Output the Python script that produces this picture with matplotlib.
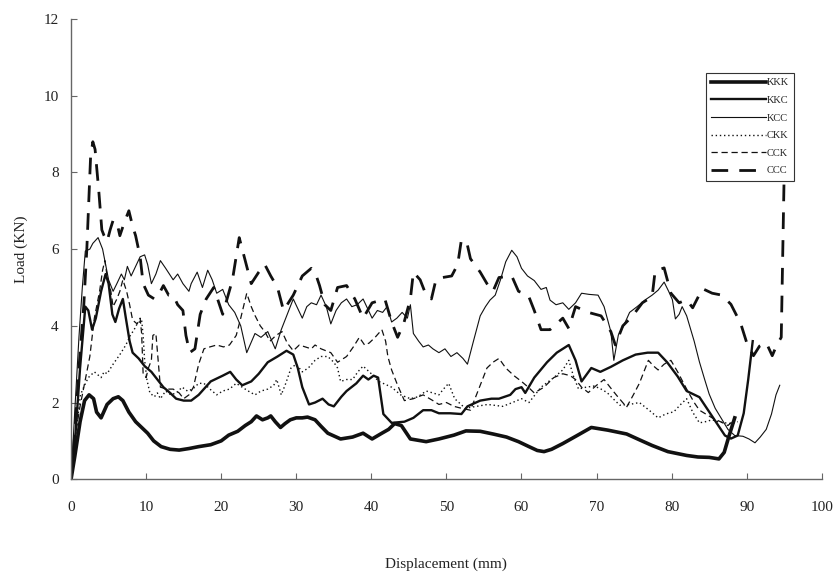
import matplotlib
matplotlib.use("Agg")
import matplotlib.pyplot as plt

plt.rcParams["font.family"] = ["Liberation Serif", "DejaVu Serif"]

# Load-displacement records (displacement in mm, load in kN)
KKK_PTS = [(0, 0), (0.5, 0.6), (1.2, 1.5), (1.8, 2.05), (2.4, 2.2), (3.0, 2.1), (3.4, 1.75), (4.0, 1.6),
           (4.8, 1.95), (5.6, 2.1), (6.3, 2.15), (6.9, 2.05), (7.7, 1.75), (8.6, 1.5), (9.4, 1.35),
           (10.2, 1.2), (11.0, 1.0), (12.0, 0.85), (13.2, 0.78), (14.4, 0.76), (15.7, 0.8), (17, 0.85),
           (18.6, 0.9), (20, 1.0), (21, 1.15), (22.2, 1.25), (23.2, 1.4), (24.0, 1.5), (24.7, 1.65),
           (25.5, 1.55), (26.2, 1.6), (26.6, 1.65), (27.2, 1.5), (27.9, 1.35), (28.5, 1.45), (29.2, 1.55),
           (30, 1.6), (30.8, 1.6), (31.5, 1.62), (32.5, 1.55), (33.3, 1.38), (34.2, 1.2), (35.9, 1.05),
           (37.5, 1.1), (38.9, 1.2), (40.1, 1.05), (41.4, 1.2), (42.3, 1.3), (43.1, 1.45), (44, 1.4),
           (45.2, 1.05), (47.3, 0.98), (49, 1.05), (51, 1.15), (52.6, 1.26), (54.5, 1.25), (56.2, 1.18),
           (58, 1.1), (59.6, 0.98), (61, 0.85), (62.1, 0.75), (63, 0.72), (64, 0.78), (65.5, 0.93),
           (67.5, 1.15), (69.3, 1.35), (71.5, 1.28), (74, 1.18), (75.8, 1.02), (77.4, 0.88), (79.5, 0.72),
           (82, 0.62), (83.5, 0.58), (85, 0.57), (86.3, 0.53), (87, 0.7), (87.6, 1.1), (88.4, 1.6)]

KKC_PTS = [(0, 0), (0.6, 1.2), (1.2, 2.9), (1.9, 4.5), (2.3, 4.4), (2.8, 3.9), (3.3, 4.2), (4.0, 4.9),
           (4.6, 5.35), (5.0, 5.1), (5.5, 4.3), (5.9, 4.1), (6.4, 4.45), (6.9, 4.7), (7.3, 4.2), (7.8, 3.6),
           (8.2, 3.3), (9.0, 3.15), (9.8, 2.95), (10.7, 2.8), (11.5, 2.6), (12.3, 2.4), (13.2, 2.25),
           (14.0, 2.1), (15.0, 2.05), (16.0, 2.05), (17.0, 2.2), (18.6, 2.55), (20.2, 2.7), (21.2, 2.8),
           (22.0, 2.6), (22.8, 2.45), (24.0, 2.55), (25.0, 2.75), (26.2, 3.05), (27.5, 3.2), (28.7, 3.35),
           (29.6, 3.25), (30.2, 2.9), (30.8, 2.4), (31.7, 1.95), (32.5, 2.0), (33.5, 2.1), (34.3, 1.95),
           (35.0, 1.9), (36.0, 2.15), (36.7, 2.3), (38.0, 2.5), (38.9, 2.7), (39.6, 2.6), (40.3, 2.7),
           (40.9, 2.65), (41.6, 1.7), (42.7, 1.47), (44.4, 1.5), (45.6, 1.6), (46.9, 1.8), (48.0, 1.8),
           (49, 1.72), (50.5, 1.72), (52, 1.7), (52.8, 1.9), (54.5, 2.05), (56, 2.1), (57, 2.1), (58.5, 2.2),
           (59.2, 2.35), (60, 2.4), (60.5, 2.25), (61.7, 2.65), (63.4, 3.05), (64.7, 3.3), (65.5, 3.4),
           (66.3, 3.5), (67.2, 3.1), (68, 2.55), (69.3, 2.9), (70.5, 2.8), (71.9, 2.93), (73.5, 3.1),
           (75.2, 3.25), (76.8, 3.3), (78.2, 3.3), (79.4, 3.05), (80.8, 2.68), (82, 2.3), (83.7, 2.14),
           (85.4, 1.64), (87.1, 1.14), (87.9, 1.06), (88.8, 1.14), (89.6, 1.72), (90.2, 2.6), (90.8, 3.6)]

KCC_PTS = [(0, 0), (0.5, 1.8), (1.05, 3.7), (1.5, 5.0), (1.9, 5.95), (2.5, 6.0), (2.9, 6.15), (3.6, 6.3),
           (4.2, 6.0), (4.6, 5.6), (5.0, 5.2), (5.6, 4.9), (6.1, 5.1), (6.7, 5.35), (7.1, 5.2), (7.5, 5.55),
           (8.0, 5.3), (8.6, 5.55), (9.2, 5.8), (9.8, 5.85), (10.2, 5.6), (10.7, 5.1), (11.3, 5.35),
           (11.9, 5.7), (12.6, 5.5), (13.6, 5.2), (14.2, 5.35), (14.9, 5.1), (15.7, 4.9), (16.0, 5.1),
           (16.8, 5.4), (17.5, 5.0), (18.2, 5.45), (18.8, 5.2), (19.4, 4.85), (20.2, 4.95), (21.0, 4.55),
           (21.8, 4.35), (22.6, 4.0), (23.4, 3.3), (24.5, 3.8), (25.3, 3.7), (26.2, 3.85), (27.2, 3.4),
           (28.0, 3.9), (28.8, 4.3), (29.6, 4.7), (30.2, 4.45), (30.8, 4.2), (31.4, 4.5), (32.0, 4.6),
           (32.7, 4.55), (33.3, 4.8), (34.0, 4.5), (34.6, 4.05), (35.3, 4.4), (36.0, 4.6), (36.7, 4.7),
           (37.4, 4.5), (38.1, 4.55), (38.9, 4.7), (39.5, 4.45), (40.1, 4.2), (40.8, 4.4), (41.5, 4.35),
           (42.1, 4.5), (42.7, 4.1), (43.4, 4.2), (44.1, 4.35), (44.8, 4.2), (45.2, 4.55), (45.6, 3.8),
           (46.3, 3.6), (46.9, 3.45), (47.6, 3.5), (48.2, 3.4), (49.0, 3.3), (49.8, 3.4), (50.6, 3.2),
           (51.4, 3.3), (52.2, 3.15), (52.8, 3.0), (53.6, 3.6), (54.5, 4.26), (55.2, 4.5), (55.8, 4.67),
           (56.5, 4.8), (57.2, 5.2), (57.9, 5.67), (58.7, 5.97), (59.4, 5.8), (60.0, 5.5), (60.8, 5.3),
           (61.7, 5.18), (62.6, 4.95), (63.3, 5.0), (63.8, 4.67), (64.6, 4.55), (65.5, 4.6), (66.3, 4.43),
           (67.2, 4.6), (68.0, 4.85), (69.0, 4.82), (70.2, 4.8), (71.0, 4.5), (71.9, 3.85), (72.3, 3.1),
           (72.9, 3.76), (73.6, 4.0), (74.4, 4.35), (75.4, 4.5), (76.5, 4.68), (77.4, 4.8), (78.2, 4.93),
           (79.0, 5.14), (79.6, 4.9), (80.1, 4.68), (80.5, 4.18), (81.0, 4.3), (81.4, 4.5), (82.0, 4.26),
           (83.0, 3.6), (83.7, 3.06), (84.4, 2.6), (85.0, 2.22), (85.8, 1.85), (86.7, 1.56), (87.5, 1.3),
           (88.4, 1.14), (89.5, 1.12), (90.3, 1.05), (91.1, 0.95), (91.8, 1.1), (92.6, 1.3), (93.3, 1.7),
           (93.9, 2.2), (94.4, 2.45)]

CKK_PTS = [(0, 0), (0.6, 1.1), (1.25, 2.2), (1.8, 2.45), (2.3, 2.65), (3.1, 2.8), (4.0, 2.65), (4.4, 2.8),
           (4.8, 2.75), (5.6, 3.0), (6.5, 3.25), (7.3, 3.5), (7.9, 3.75), (8.4, 3.9), (8.8, 4.05), (9.4, 4.15),
           (9.6, 3.75), (9.8, 3.1), (10.1, 2.6), (10.5, 2.25), (11.1, 2.15), (11.5, 2.25), (11.9, 2.1),
           (12.6, 2.3), (13.3, 2.2), (14.0, 2.25), (14.8, 2.4), (15.5, 2.3), (16.2, 2.35), (17.0, 2.5),
           (17.7, 2.5), (18.5, 2.35), (19.4, 2.2), (20.2, 2.3), (21.1, 2.35), (22.0, 2.5), (22.8, 2.4),
           (23.6, 2.3), (24.5, 2.2), (25.3, 2.3), (26.2, 2.35), (27.0, 2.45), (27.4, 2.6), (28.0, 2.2),
           (28.6, 2.5), (29.3, 2.9), (30.0, 3.0), (30.8, 2.8), (31.6, 2.9), (32.5, 3.1), (33.3, 3.2),
           (34.2, 3.2), (35.0, 3.05), (35.5, 2.9), (35.9, 2.55), (36.7, 2.6), (37.5, 2.6), (38.2, 2.8),
           (38.9, 2.95), (40.0, 2.75), (41.0, 2.55), (42.7, 2.4), (43.9, 2.2), (45.2, 2.1), (46.2, 2.15),
           (47.3, 2.3), (48.2, 2.25), (49.0, 2.2), (49.6, 2.35), (50.3, 2.5), (51.1, 2.1), (52.5, 1.85),
           (54.0, 1.9), (55.5, 1.95), (57.5, 1.9), (58.8, 2.0), (60.0, 2.1), (61.0, 2.0), (61.8, 2.2),
           (62.6, 2.4), (64.3, 2.65), (65.5, 2.85), (66.3, 3.1), (66.9, 2.7), (67.6, 2.35), (68.6, 2.4),
           (69.7, 2.43), (70.6, 2.35), (71.4, 2.26), (72.2, 2.1), (73.1, 1.93), (74.4, 1.95), (75.7, 2.0),
           (77.0, 1.8), (78.2, 1.6), (79.2, 1.7), (80.3, 1.76), (81.2, 1.95), (82.0, 2.1), (82.8, 1.75),
           (83.7, 1.47), (84.5, 1.5), (85.4, 1.55), (86.2, 1.5), (87.1, 1.47), (88.0, 1.45), (88.8, 1.5)]

CCK_PTS = [(0, 0), (0.6, 1.2), (1.2, 1.9), (1.9, 2.6), (2.5, 3.2), (3.1, 4.2), (3.8, 4.9), (4.2, 5.45),
           (4.5, 5.7), (4.8, 5.3), (5.3, 4.9), (5.6, 4.5), (6.1, 4.7), (6.5, 4.9), (6.9, 5.2), (7.4, 4.9),
           (7.8, 4.55), (8.2, 4.15), (8.8, 4.05), (9.2, 4.2), (9.4, 3.8), (9.6, 2.75), (10.0, 2.65),
           (10.3, 2.9), (10.7, 3.1), (10.9, 3.75), (11.3, 3.8), (11.6, 3.1), (11.9, 2.4), (12.8, 2.35),
           (13.6, 2.35), (14.4, 2.25), (15.0, 2.1), (15.7, 2.2), (16.3, 2.4), (17.0, 3.0), (17.7, 3.4),
           (18.5, 3.45), (19.4, 3.5), (20.3, 3.45), (21.1, 3.5), (22.0, 3.75), (22.6, 4.2), (23.4, 4.85),
           (24.0, 4.5), (24.5, 4.27), (25.2, 4.0), (25.8, 3.85), (26.5, 3.6), (27.3, 3.75), (28.1, 3.85),
           (28.8, 3.55), (29.6, 3.35), (30.4, 3.5), (31.2, 3.45), (32.0, 3.4), (32.5, 3.5), (33.3, 3.4),
           (34.6, 3.3), (35.5, 3.05), (36.7, 3.2), (37.6, 3.45), (38.4, 3.7), (39.1, 3.5), (39.7, 3.55),
           (40.5, 3.7), (41.4, 3.9), (41.9, 3.6), (42.2, 3.2), (42.7, 2.85), (43.5, 2.45), (44.4, 2.05),
           (45.6, 2.1), (46.9, 2.2), (48.2, 2.05), (49.0, 1.95), (50.0, 2.0), (51.0, 1.9), (52.0, 1.85),
           (53.2, 1.8), (54.1, 2.25), (55.4, 2.9), (56.2, 3.05), (57.0, 3.15), (57.9, 2.9), (59.0, 2.7),
           (60.0, 2.55), (60.9, 2.4), (61.7, 2.25), (63.0, 2.4), (64.3, 2.65), (65.5, 2.75), (66.5, 2.7),
           (67.2, 2.6), (68.0, 2.4), (68.9, 2.26), (70.0, 2.45), (71.0, 2.6), (72.0, 2.35), (72.7, 2.18),
           (74.0, 1.88), (74.9, 2.2), (75.7, 2.5), (76.9, 3.1), (77.6, 2.95), (78.2, 2.85), (79.0, 3.0),
           (79.9, 3.1), (80.8, 2.8), (82.0, 2.35), (83.0, 2.0), (83.7, 1.8), (85.4, 1.6), (86.5, 1.5),
           (87.5, 1.4), (88.4, 1.56)]

CCC_PTS = [(0, 0), (0.5, 1.2), (1.05, 2.9), (1.7, 4.55), (2.1, 6.0), (2.6, 8.4), (2.9, 8.8), (3.2, 8.6),
           (3.7, 7.5), (4.1, 6.5), (4.4, 6.35), (4.8, 6.2), (5.2, 6.5), (5.6, 6.75), (6.1, 6.7), (6.5, 6.35),
           (7.1, 6.7), (7.7, 7.0), (8.2, 6.6), (8.6, 6.35), (9.2, 5.8), (9.6, 5.1), (10.3, 4.8), (11.1, 4.7),
           (11.9, 4.9), (12.3, 5.05), (13.0, 4.8), (13.6, 4.8), (14.2, 4.55), (14.9, 4.4), (15.3, 3.75),
           (15.8, 3.3), (16.5, 3.4), (17.2, 4.3), (18.0, 4.7), (19.0, 5.0), (20.2, 4.3), (21.5, 5.2),
           (22.4, 6.3), (23.2, 5.7), (24.0, 5.1), (25.0, 5.4), (25.8, 5.6), (26.6, 5.3), (27.5, 5.0),
           (28.3, 4.4), (29.6, 4.8), (30.8, 5.3), (32.0, 5.5), (32.5, 5.4), (33.1, 5.05), (33.8, 4.55),
           (34.6, 4.4), (35.5, 5.0), (36.7, 5.05), (37.8, 4.7), (38.9, 4.2), (40.1, 4.6), (41.8, 4.7),
           (42.7, 4.1), (43.5, 3.7), (44.3, 4.05), (45.2, 4.7), (45.6, 5.4), (46.5, 5.2), (47.3, 4.8),
           (48.0, 4.7), (48.6, 5.2), (49.5, 5.26), (50.7, 5.3), (51.5, 5.6), (52.0, 6.25), (52.8, 6.1),
           (53.2, 5.75), (54.5, 5.4), (55.4, 5.1), (56.2, 4.9), (57.0, 5.26), (58.7, 5.3), (59.6, 4.9),
           (60.9, 4.8), (61.7, 4.4), (62.6, 3.9), (63.8, 3.9), (65.5, 4.2), (66.3, 3.93), (67.2, 4.5),
           (68.9, 4.35), (70.6, 4.26), (71.9, 3.85), (72.5, 3.5), (73.5, 4.0), (74.8, 4.26), (76.1, 4.6),
           (77.4, 4.76), (77.8, 5.43), (79.0, 5.51), (79.9, 4.85), (81.0, 4.6), (82.0, 4.68), (82.8, 4.47),
           (84.1, 4.97), (85.4, 4.85), (86.7, 4.8), (87.9, 4.56), (89.2, 4.06), (90.0, 3.56), (90.9, 3.22),
           (91.7, 3.47), (92.6, 3.56), (93.4, 3.22), (94.0, 3.5), (94.6, 3.7), (95.0, 8.1)]

SERIES = ["KKK", "KKC", "KCC", "CKK", "CCK", "CCC"]
POINTS = [KKK_PTS, KKC_PTS, KCC_PTS, CKK_PTS, CCK_PTS, CCC_PTS]

X_TICKS = list(range(0, 101, 10))
Y_TICKS = list(range(0, 13, 2))

STYLES = {
    "KKK": dict(lw=2.6, linestyle="-"),
    "KKC": dict(lw=1.7, linestyle="-"),
    "KCC": dict(lw=0.8, linestyle="-"),
    "CKK": dict(lw=1.0, linestyle=(0, (1, 2))),
    "CCK": dict(lw=0.9, linestyle=(0, (5, 3))),
    "CCC": dict(lw=2.0, linestyle=(0, (6, 4))),
}

fig = plt.figure(figsize=(8.36, 5.76), dpi=100)
ax = fig.add_axes([0.085, 0.168, 0.898, 0.799])

for name, pts in zip(SERIES, POINTS):
    xs = [p[0] for p in pts]
    ys = [p[1] for p in pts]
    ax.plot(xs, ys, color="#111111", label=name, solid_joinstyle="round",
            dash_capstyle="butt", **STYLES[name])

ax.set_xlim(0, 100)
ax.set_ylim(0, 12)
ax.set_xticks(X_TICKS)
ax.set_yticks(Y_TICKS)

for side in ("top", "right"):
    ax.spines[side].set_visible(False)
for side in ("left", "bottom"):
    ax.spines[side].set_color("#666666")
    ax.spines[side].set_linewidth(1.0)

ax.tick_params(axis="both", direction="in", length=4, width=0.8, color="#666666",
               labelsize=11, labelcolor="#222222")
ax.tick_params(axis="x", pad=16)
ax.tick_params(axis="y", pad=9)

ax.set_xlabel("Displacement (mm)", fontsize=11, color="#222222")
ax.set_ylabel("Load (KN)", fontsize=11, color="#222222")
ax.xaxis.set_label_coords(0.5, -0.170)
ax.yaxis.set_label_coords(-0.058, 0.5)

leg = ax.legend(loc="upper left", bbox_to_anchor=(0.846, 0.883), borderaxespad=0,
                fontsize=7.5, handlelength=5.2, handletextpad=0.1, labelspacing=0.8,
                borderpad=0.5, fancybox=False, framealpha=1, edgecolor="#333333")
leg.get_frame().set_linewidth(0.8)
for t in leg.get_texts():
    t.set_color("#222222")

fig.savefig("out.png", dpi=100)
